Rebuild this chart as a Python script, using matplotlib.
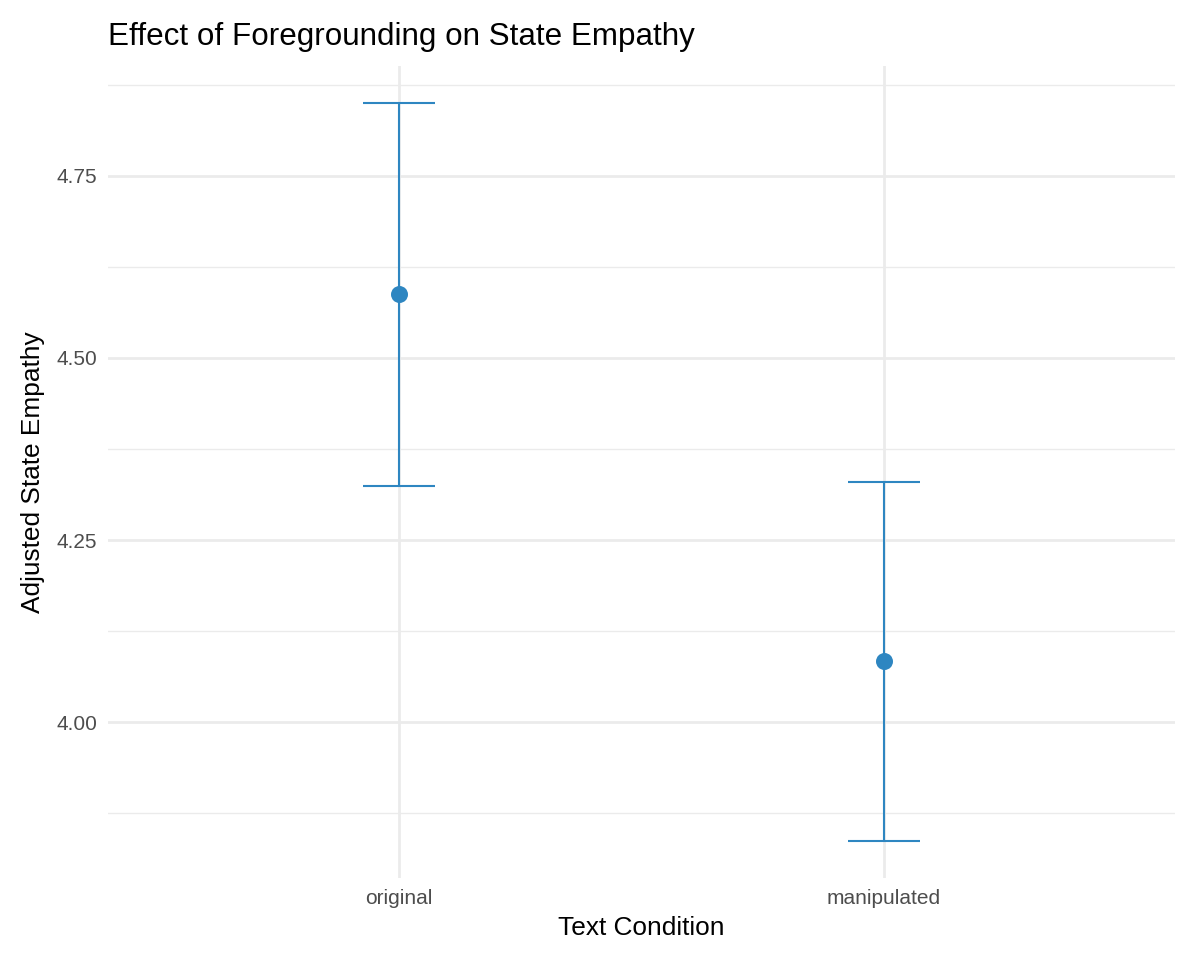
import matplotlib.pyplot as plt
from matplotlib.ticker import MultipleLocator

conditions = ["original", "manipulated"]
means = [4.588, 4.084]
lower = [4.324, 3.837]
upper = [4.850, 4.330]

plt.rcParams['font.family'] = ['Liberation Sans', 'DejaVu Sans']

fig = plt.figure(figsize=(12, 9.65), dpi=100)
ax = fig.add_axes([0.09, 0.0902, 0.889, 0.8414])

blue = "#2E86C1"
xs = list(range(1, len(conditions) + 1))
yerr = [[m - lo for m, lo in zip(means, lower)], [hi - m for m, hi in zip(means, upper)]]
ax.errorbar(xs, means, yerr=yerr, fmt="none", ecolor=blue, elinewidth=1.5,
            capsize=26, capthick=1.5, zorder=3)
ax.scatter(xs, means, s=150, color=blue, zorder=4, linewidths=0)

ax.set_xlim(0.4, 2.6)
lo_all, hi_all = min(lower), max(upper)
pad = (hi_all - lo_all) * 0.05
ax.set_ylim(lo_all - pad, hi_all + pad)

ax.set_xticks(xs)
ax.set_xticklabels(conditions)
ax.yaxis.set_major_locator(MultipleLocator(0.25))
ax.yaxis.set_minor_locator(MultipleLocator(0.125))
ax.yaxis.set_major_formatter(plt.FormatStrFormatter("%.2f"))

ax.grid(True, which="major", color="#EBEBEB", linewidth=2.0)
ax.grid(True, which="minor", axis="y", color="#EBEBEB", linewidth=1.0)
ax.set_axisbelow(True)
for s in ax.spines.values():
    s.set_visible(False)
ax.tick_params(which="both", length=0, labelsize=15, labelcolor="#4D4D4D", pad=8)

ax.set_xlabel("Text Condition", fontsize=18.9, labelpad=6)
ax.set_ylabel("Adjusted State Empathy", fontsize=18.9, labelpad=8)
fig.text(0.09, 0.962, "Effect of Foregrounding on State Empathy", fontsize=22.6,
         ha="left", va="center")

fig.savefig("out.png", dpi=100, facecolor="white")
